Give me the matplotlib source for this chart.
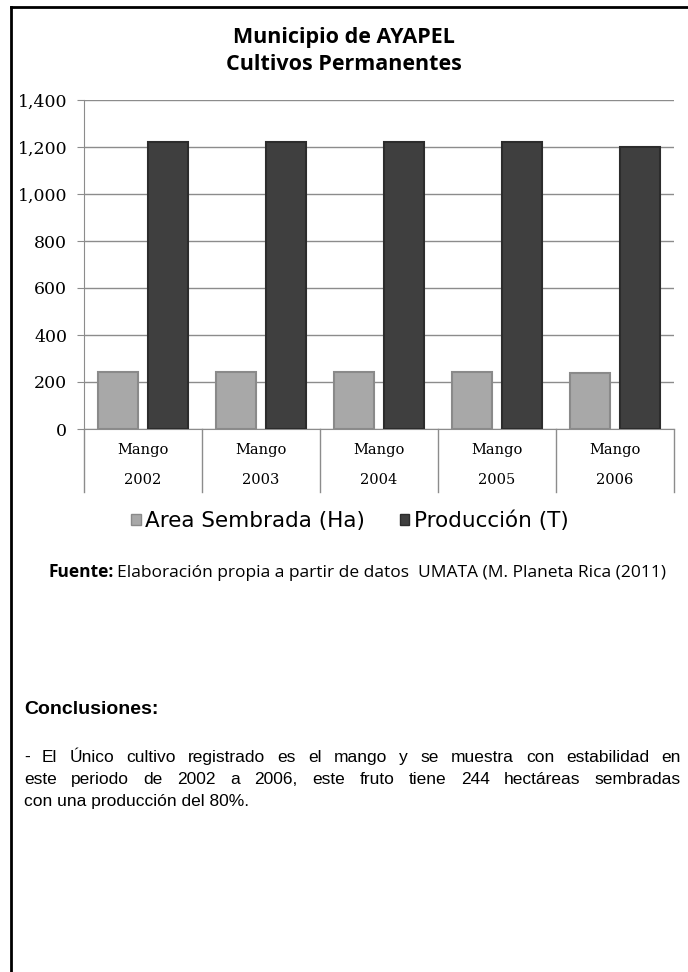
import matplotlib
matplotlib.use("Agg")
import matplotlib.pyplot as plt
import matplotlib.transforms as mtransforms
from matplotlib.lines import Line2D
import numpy as np

cultivos = ["Mango", "Mango", "Mango", "Mango", "Mango"]
anios = ["2002", "2003", "2004", "2005", "2006"]
area = [244, 244, 244, 244, 240]
produccion = [1220, 1220, 1220, 1220, 1200]
yticks = [0, 200, 400, 600, 800, 1000, 1200, 1400]

W, H = 688, 972
fig = plt.figure(figsize=(W / 100, H / 100), dpi=100)

def fx(px):
    return px / W

def fy(py):
    return 1 - py / H

# page border (left and top only)
fig.add_artist(Line2D([fx(11), fx(11)], [fy(7), 0], color="black", lw=2))
fig.add_artist(Line2D([fx(11), 1], [fy(7), fy(7)], color="black", lw=2))

ax = fig.add_axes([fx(84), fy(429), fx(674) - fx(84), fy(100) - fy(429)])
x = np.arange(len(anios))
bw = 0.34
ax.bar(x - 0.215, area, bw, color="#a8a8a8", edgecolor="#8a8a8a", lw=1.5, zorder=3)
ax.bar(x + 0.215, produccion, bw, color="#3f3f3f", edgecolor="#2c2c2c", lw=1.5, zorder=3)

ax.set_xlim(-0.5, len(anios) - 0.5)
ax.set_ylim(0, 1400)
ax.set_yticks(yticks)
ax.set_yticklabels([f"{v:,}" for v in yticks], fontfamily="DejaVu Serif", fontsize=12.5)
ax.tick_params(axis="y", length=5, color="#8c8c8c", pad=7)
ax.set_xticks([])
ax.grid(axis="y", color="#8c8c8c", lw=1, zorder=0)
for s in ["top", "right"]:
    ax.spines[s].set_visible(False)
ax.spines["left"].set_color("#8c8c8c")
ax.spines["bottom"].set_color("#8c8c8c")

# category labels and separators
trans = mtransforms.blended_transform_factory(ax.transData, ax.transAxes)
ax_h = fy(100) - fy(429)
drop = (63 / H) / ax_h
for i in range(len(anios) + 1):
    ax.add_line(Line2D([i - 0.5, i - 0.5], [0, -drop], transform=trans,
                       color="#8c8c8c", lw=1, clip_on=False))
for i, (c, a) in enumerate(zip(cultivos, anios)):
    ax.text(i, -(21 / H) / ax_h, c, transform=trans, ha="center", va="center",
            fontfamily="DejaVu Serif", fontsize=10.5)
    ax.text(i, -(51 / H) / ax_h, a, transform=trans, ha="center", va="center",
            fontfamily="DejaVu Serif", fontsize=10.5)

fig.text(fx(344), fy(38), "Municipio de AYAPEL", ha="center", va="center",
         fontfamily="Open Sans", fontweight="bold", fontsize=15.5)
fig.text(fx(344), fy(64), "Cultivos Permanentes", ha="center", va="center",
         fontfamily="Open Sans", fontweight="bold", fontsize=15.5)

# legend
handles = [plt.Rectangle((0, 0), 1, 1, fc="#a8a8a8", ec="#8a8a8a"),
           plt.Rectangle((0, 0), 1, 1, fc="#3f3f3f", ec="#2c2c2c")]
fig.legend(handles, ["Area Sembrada (Ha)", "Producción (T)"], loc="center",
           bbox_to_anchor=(fx(350), fy(521)), ncol=2, frameon=False,
           prop={"family": "DejaVu Sans", "size": 15.5}, handlelength=0.45,
           handleheight=0.45, handletextpad=0.2, columnspacing=1.6)

renderer = fig.canvas.get_renderer()

t = fig.text(fx(48), fy(577), "Fuente:", ha="left", va="baseline",
             fontfamily="Open Sans", fontweight="bold", fontsize=12.5)
bb = t.get_window_extent(renderer)
fig.text(bb.x1 / W + fx(4), fy(577), "Elaboración propia a partir de datos  UMATA (M. Planeta Rica (2011)",
         ha="left", va="baseline", fontfamily="Open Sans", fontsize=12.5)

fig.text(fx(24), fy(710), "Conclusiones:", ha="left", va="center",
         fontfamily="Liberation Sans", fontweight="bold", fontsize=14)

lines = [
    "- El Único cultivo registrado es el mango y se muestra con estabilidad en",
    "este periodo de 2002 a 2006, este fruto tiene 244 hectáreas sembradas",
    "con una producción del 80%.",
]
ys = [762, 784, 806]
left, right = 24, 681
for k, (ln, yy) in enumerate(zip(lines, ys)):
    if k == len(lines) - 1:
        fig.text(fx(left), fy(yy), ln, ha="left", va="baseline",
                 fontfamily="Liberation Sans", fontsize=12.5)
        continue
    words = ln.split(" ")
    arts = [fig.text(0, fy(yy), w, ha="left", va="baseline",
                     fontfamily="Liberation Sans", fontsize=12.5) for w in words]
    widths = [a.get_window_extent(renderer).width for a in arts]
    gap = (right - left - sum(widths)) / (len(words) - 1)
    pos = left
    for a, w in zip(arts, widths):
        a.set_x(fx(pos))
        pos += w + gap

fig.savefig("out.png", dpi=100)
